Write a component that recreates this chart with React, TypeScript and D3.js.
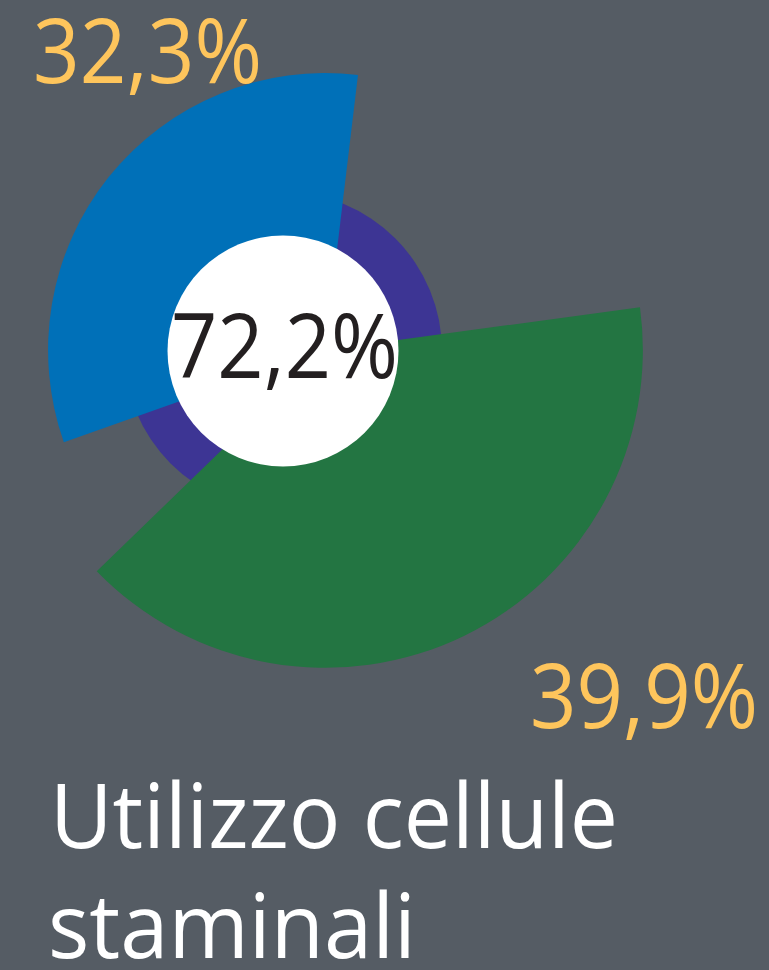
import React from "react";
import * as d3 from "d3";

// ---- data ----
const categories: string[] = ["Cellule staminali A", "Cellule staminali B"];
const values: number[] = [32.3, 39.9];
const startPercents: number[] = [-30.4, 22.85];
const colors: string[] = ["#0070b8", "#237542"];
const labelTexts: string[] = ["32,3%", "39,9%"];
const titleLines: string[] = ["Utilizzo cellule", "staminali"];

const W = 769;
const H = 970;
const BG = "#555c64";
const RING = "#3d3594";
const LABEL = "#fec55c";

export default function App() {
  const angle = d3.scaleLinear().domain([0, 100]).range([0, 2 * Math.PI]);
  const radius = d3.scaleLinear().domain([0, 40]).range([103, 318.4]);
  const arc = d3.arc<any>();

  const sectorCx = 325;
  const sectorCy = 350;
  const discCx = 283;
  const discCy = 351;

  const total = d3.sum(values);
  const totalLabel = total.toFixed(1).replace(".", ",") + "%";

  const labelPos = [
    { x: 33, y: 83, len: 229 },
    { x: 530, y: 728, len: 228 },
  ];

  const font = "'Open Sans', 'Noto Sans', 'DejaVu Sans', sans-serif";

  return (
    <svg
      width={W}
      height={H}
      viewBox={`0 0 ${W} ${H}`}
      style={{ position: "absolute", left: 0, top: 0, display: "block" }}
    >
      <rect x={0} y={0} width={W} height={H} fill={BG} />
      <circle cx={discCx} cy={discCy} r={159} fill={RING} />
      <g transform={`translate(${sectorCx},${sectorCy})`}>
        {values.map((v, i) => (
          <path
            key={categories[i]}
            d={
              arc({
                innerRadius: 0,
                outerRadius: radius(v),
                startAngle: angle(startPercents[i]),
                endAngle: angle(startPercents[i] + v),
              }) as string
            }
            fill={colors[i]}
          />
        ))}
      </g>
      <circle cx={discCx} cy={discCy} r={115.5} fill="#ffffff" />
      <text
        x={171}
        y={378}
        fontFamily={font}
        fontSize={90}
        fill="#231f20"
        textLength={227}
        lengthAdjust="spacingAndGlyphs"
      >
        {totalLabel}
      </text>
      {labelTexts.map((t, i) => (
        <text
          key={t}
          x={labelPos[i].x}
          y={labelPos[i].y}
          fontFamily={font}
          fontSize={90}
          fill={LABEL}
          textLength={labelPos[i].len}
          lengthAdjust="spacingAndGlyphs"
        >
          {t}
        </text>
      ))}
      <text
        x={50}
        y={848}
        fontFamily={font}
        fontSize={90}
        fill="#ffffff"
        textLength={568}
        lengthAdjust="spacingAndGlyphs"
      >
        {titleLines[0]}
      </text>
      <text
        x={48}
        y={958}
        fontFamily={font}
        fontSize={90}
        fill="#ffffff"
        textLength={368}
        lengthAdjust="spacingAndGlyphs"
      >
        {titleLines[1]}
      </text>
    </svg>
  );
}
